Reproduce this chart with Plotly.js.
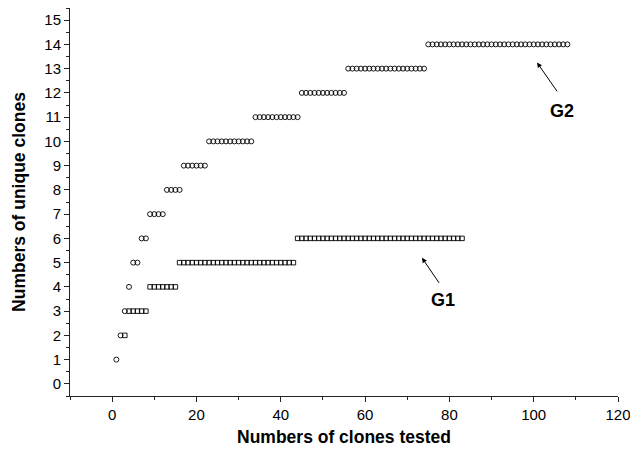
<!DOCTYPE html>
<html>
<head>
<meta charset="utf-8">
<script src="https://cdn.plot.ly/plotly-3.0.1.min.js"></script>
<style>
  html, body { margin: 0; padding: 0; background: #fff; }
  #chart { width: 630px; height: 454px; }
</style>
</head>
<body>
<div id="chart"></div>
<script>
// G2 (open circles): numbers of unique clones vs numbers of clones tested
const g2X = [
  1,2,3,4,5,6,7,8,9,10,
  11,12,13,14,15,16,17,18,19,20,
  21,22,23,24,25,26,27,28,29,30,
  31,32,33,34,35,36,37,38,39,40,
  41,42,43,44,45,46,47,48,49,50,
  51,52,53,54,55,56,57,58,59,60,
  61,62,63,64,65,66,67,68,69,70,
  71,72,73,74,75,76,77,78,79,80,
  81,82,83,84,85,86,87,88,89,90,
  91,92,93,94,95,96,97,98,99,100,
  101,102,103,104,105,106,107,108
];
const g2Y = [
  1,2,3,4,5,5,6,6,7,7,
  7,7,8,8,8,8,9,9,9,9,
  9,9,10,10,10,10,10,10,10,10,
  10,10,10,11,11,11,11,11,11,11,
  11,11,11,11,12,12,12,12,12,12,
  12,12,12,12,12,13,13,13,13,13,
  13,13,13,13,13,13,13,13,13,13,
  13,13,13,13,14,14,14,14,14,14,
  14,14,14,14,14,14,14,14,14,14,
  14,14,14,14,14,14,14,14,14,14,
  14,14,14,14,14,14,14,14
];

// G1 (open squares)
const g1X = [
  3,4,5,6,7,8,9,10,
  11,12,13,14,15,16,17,18,19,20,
  21,22,23,24,25,26,27,28,29,30,
  31,32,33,34,35,36,37,38,39,40,
  41,42,43,44,45,46,47,48,49,50,
  51,52,53,54,55,56,57,58,59,60,
  61,62,63,64,65,66,67,68,69,70,
  71,72,73,74,75,76,77,78,79,80,
  81,82,83
];
const g1Y = [
  2,3,3,3,3,3,4,4,
  4,4,4,4,4,5,5,5,5,5,
  5,5,5,5,5,5,5,5,5,5,
  5,5,5,5,5,5,5,5,5,5,
  5,5,5,6,6,6,6,6,6,6,
  6,6,6,6,6,6,6,6,6,6,
  6,6,6,6,6,6,6,6,6,6,
  6,6,6,6,6,6,6,6,6,6,
  6,6,6
];

const xTitle = "Numbers of clones tested";
const yTitle = "Numbers of unique clones";

const FONT = "Liberation Sans, Arial, Helvetica, sans-serif";

const traces = [
  {
    x: g1X, y: g1Y, type: 'scatter', mode: 'markers', name: 'G1',
    marker: { symbol: 'square-open', size: 4.5, color: '#000', line: { width: 0.9, color: '#000' } },
    cliponaxis: false
  },
  {
    x: g2X, y: g2Y, type: 'scatter', mode: 'markers', name: 'G2',
    marker: { symbol: 'circle-open', size: 5, color: '#000', line: { width: 0.9, color: '#000' } },
    cliponaxis: false
  }
];

const layout = {
  width: 630, height: 454,
  margin: { l: 70, r: 12, t: 8, b: 58 },
  paper_bgcolor: '#fff', plot_bgcolor: '#fff',
  showlegend: false,
  font: { family: FONT, color: '#000', size: 15 },
  xaxis: {
    range: [-10, 120],
    tickmode: 'linear', tick0: 0, dtick: 20,
    ticks: 'outside', ticklen: 5, tickwidth: 1, tickcolor: '#222',
    minor: { dtick: 10, tick0: 0, ticks: 'outside', ticklen: 3, tickwidth: 1, tickcolor: '#222' },
    showline: true, linecolor: '#222', linewidth: 1,
    showgrid: false, zeroline: false,
    ticklabeloverflow: 'allow',
    tickfont: { size: 15, family: FONT },
    title: { text: xTitle, font: { size: 17.5, family: FONT, weight: 'bold' }, standoff: 8 }
  },
  yaxis: {
    range: [-0.5, 15.5],
    tickmode: 'linear', tick0: 0, dtick: 1,
    ticks: 'outside', ticklen: 5, tickwidth: 1, tickcolor: '#222',
    minor: { dtick: 0.5, tick0: 0, ticks: 'outside', ticklen: 3, tickwidth: 1, tickcolor: '#222' },
    showline: true, linecolor: '#222', linewidth: 1,
    showgrid: false, zeroline: false,
    ticklabeloverflow: 'allow',
    tickfont: { size: 15, family: FONT },
    title: { text: yTitle, font: { size: 17.5, family: FONT, weight: 'bold' }, standoff: 14 }
  },
  annotations: [
    { x: 78.5, y: 3.45, xref: 'x', yref: 'y', text: '<b>G1</b>', showarrow: false,
      font: { size: 18, family: FONT, color: '#000' } },
    { x: 73.5, y: 5.2, xref: 'x', yref: 'y', ax: 77.8, ay: 4.1, axref: 'x', ayref: 'y',
      text: '', showarrow: true, arrowhead: 2, arrowsize: 1, arrowwidth: 1, arrowcolor: '#000' },
    { x: 106.6, y: 11.26, xref: 'x', yref: 'y', text: '<b>G2</b>', showarrow: false,
      font: { size: 18, family: FONT, color: '#000' } },
    { x: 100.8, y: 13.25, xref: 'x', yref: 'y', ax: 105.8, ay: 12.0, axref: 'x', ayref: 'y',
      text: '', showarrow: true, arrowhead: 2, arrowsize: 1, arrowwidth: 1, arrowcolor: '#000' }
  ]
};

Plotly.newPlot('chart', traces, layout, { staticPlot: true, displayModeBar: false });
</script>
</body>
</html>
